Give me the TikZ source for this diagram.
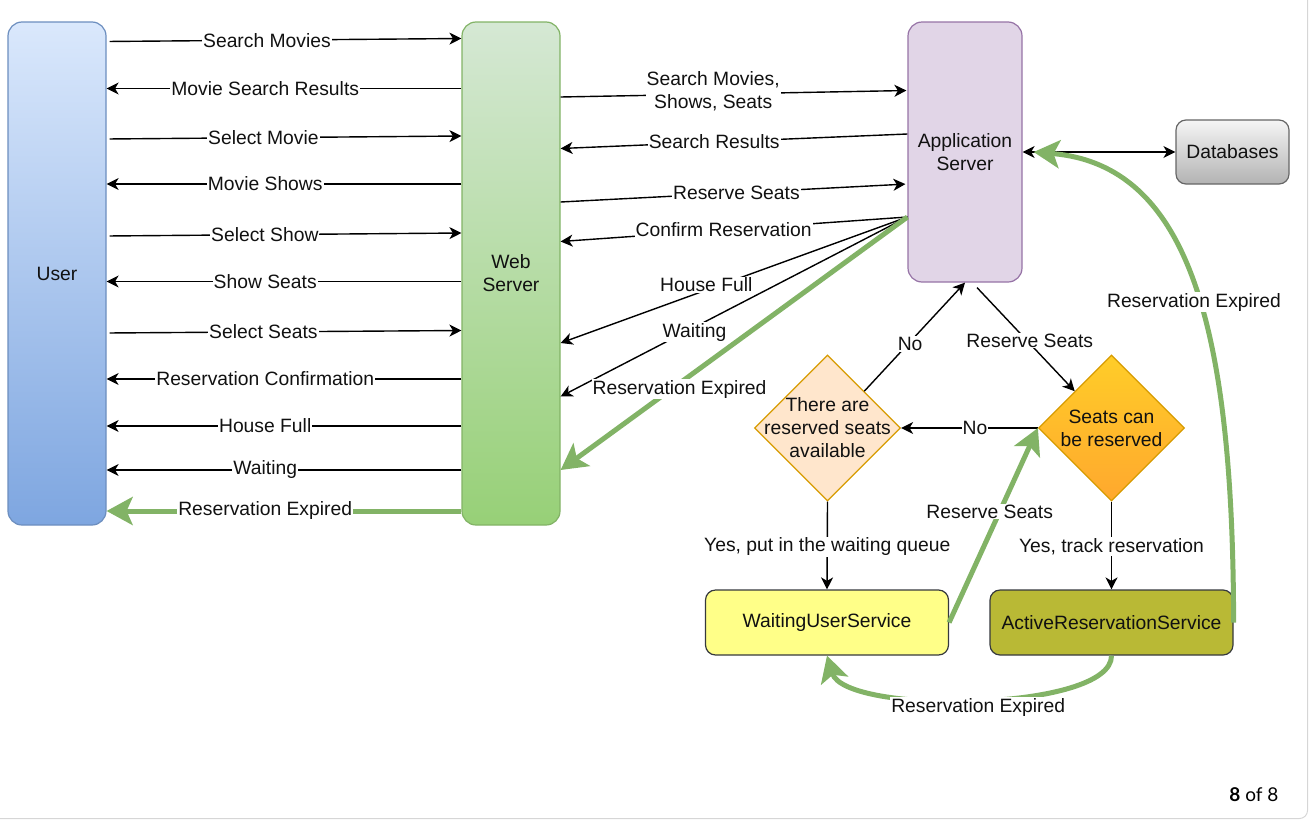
\documentclass[tikz,border=0pt]{standalone}
\usepackage{fontspec}
\setmainfont{Liberation Sans}
\newfontfamily\pagerfont{Lato}
\usetikzlibrary{arrows.meta,shapes.geometric}

\definecolor{ink}{HTML}{111111}
\definecolor{userTop}{HTML}{DAE8FC}
\definecolor{userBot}{HTML}{7EA6E0}
\definecolor{userLine}{HTML}{6C8EBF}
\definecolor{webTop}{HTML}{D5E8D4}
\definecolor{webBot}{HTML}{97D077}
\definecolor{webLine}{HTML}{82B366}
\definecolor{appFill}{HTML}{E1D5E7}
\definecolor{appLine}{HTML}{9673A6}
\definecolor{dbTop}{HTML}{F5F5F5}
\definecolor{dbBot}{HTML}{B3B3B3}
\definecolor{dbLine}{HTML}{666666}
\definecolor{chkFill}{HTML}{FFE6CC}
\definecolor{chkLine}{HTML}{D79B00}
\definecolor{resTop}{HTML}{FFCD28}
\definecolor{resBot}{HTML}{FFA82E}
\definecolor{waitFill}{HTML}{FFFF88}
\definecolor{activeFill}{HTML}{B9B935}
\definecolor{svcLine}{HTML}{36393D}
\definecolor{expired}{HTML}{82B366}
\definecolor{frameLine}{HTML}{D6D6D6}

\begin{document}
\begin{tikzpicture}[x=1pt, y=-1pt,
  font=\fontsize{19.3}{23}\selectfont,
  every node/.style={text=ink},
  box/.style={draw, line width=1.2pt, rounded corners=14pt, align=center, inner sep=0pt},
  svc/.style={box, draw=svcLine, rounded corners=10pt, minimum width=243pt, minimum height=65pt},
  dia/.style={diamond, draw=chkLine, line width=1.2pt, inner sep=0pt, minimum width=146pt, minimum height=146pt},
  msg/.style={draw=black, line width=1.4pt, -{Stealth[length=12pt,width=12pt,inset=3.5pt]}},
  both/.style={msg, {Stealth[length=12pt,width=12pt,inset=3.5pt]}-{Stealth[length=12pt,width=12pt,inset=3.5pt]}},
  exp/.style={draw=expired, line width=5pt, -{Stealth[length=26pt,width=28pt,inset=6pt]}},
  lbl/.style={fill=white, inner sep=1pt, align=center},
]
\useasboundingbox (0,0) rectangle (1311,822);

% page frame
\draw[frameLine, line width=1pt, rounded corners=8pt] (-20,-20) rectangle (1307.5,818.5);

% participants
\node[box, draw=userLine, top color=userTop, bottom color=userBot,
      minimum width=98pt, minimum height=503pt] (user) at (57,273.5) {User};
\node[box, draw=webLine, top color=webTop, bottom color=webBot,
      minimum width=98pt, minimum height=503pt] (web) at (511,273.5) {Web\\Server};
\node[box, draw=appLine, fill=appFill,
      minimum width=114pt, minimum height=260pt] (app) at (965,152) {Application\\Server};
\node[box, draw=dbLine, top color=dbTop, bottom color=dbBot, rounded corners=10pt,
      minimum width=113pt, minimum height=64pt] (db) at (1232.5,152) {Databases};

% decisions
\node[dia, fill=chkFill] (check) at (827.5,428) {};
\node[align=center] at (check) {There are\\reserved seats\\available};
\node[dia, top color=resTop, bottom color=resBot] (reserve) at (1111.5,428) {};
\node[align=center] at (reserve) {Seats can\\be reserved};

% services
\node[svc, fill=waitFill] (waiting) at (827,622.5) {WaitingUserService};
\node[svc, fill=activeFill] (active) at (1111.5,622.5) {ActiveReservationService};

% user <-> web server
\draw[msg, shorten <=3pt] (user.east |- 0,41.5) -- node[lbl,pos=0.452]{Search Movies} (web.west |- 0,38.5);
\draw[msg] (web.west |- 0,88.5) -- node[lbl,pos=0.553]{Movie Search Results} (user.east |- 0,88.5);
\draw[msg, shorten <=3pt] (user.east |- 0,139) -- node[lbl,pos=0.442]{Select Movie} (web.west |- 0,136);
\draw[msg] (web.west |- 0,184) -- node[lbl,pos=0.553]{Movie Shows} (user.east |- 0,184);
\draw[msg, shorten <=3pt] (user.east |- 0,236) -- node[lbl,pos=0.446]{Select Show} (web.west |- 0,233);
\draw[msg] (web.west |- 0,281.5) -- node[lbl,pos=0.553]{Show Seats} (user.east |- 0,281.5);
\draw[msg, shorten <=3pt] (user.east |- 0,333) -- node[lbl,pos=0.442]{Select Seats} (web.west |- 0,330.5);
\draw[msg] (web.west |- 0,379) -- node[lbl,pos=0.553]{Reservation Confirmation} (user.east |- 0,379);
\draw[msg] (web.west |- 0,426) -- node[lbl,pos=0.553]{House Full} (user.east |- 0,426);
\draw[msg] (web.west |- 0,470) -- node[lbl,pos=0.553]{Waiting} (user.east |- 0,470);
\draw[exp] (web.west |- 0,511) -- node[lbl,pos=0.553]{Reservation Expired} (user.east |- 0,511);

% web server <-> application server
\coordinate (fan) at (app.west |- 0,217);
\draw[msg, shorten >=1pt] (web.east |- 0,97) -- node[lbl,pos=0.44,yshift=3pt]{Search Movies,\\Shows, Seats} (app.west |- 0,90.5);
\draw[msg] (app.west |- 0,134) -- node[lbl,pos=0.557]{Search Results} (web.east |- 0,148.5);
\draw[msg, shorten >=2pt] (web.east |- 0,202) -- node[lbl,pos=0.507]{Reserve Seats} (app.west |- 0,184);
\draw[msg] (fan) -- node[lbl,pos=0.53]{Confirm Reservation} (web.east |- 0,241.5);
\draw[msg] (fan) -- node[lbl,pos=0.58,yshift=5pt]{House Full} (web.east |- 0,343);
\draw[msg] (fan) -- node[lbl,pos=0.614,yshift=-5pt]{Waiting} (web.east |- 0,396.5);
\draw[exp] (fan) -- node[lbl,pos=0.657,yshift=-6pt]{Reservation Expired} (web.east |- 0,470);

% application server <-> databases
\draw[both] (app.east) -- (db.west);

% reservation flow
\draw[msg] ([xshift=12pt,yshift=-5pt]app.south) -- node[lbl,pos=0.54,yshift=3pt]{Reserve Seats} (reserve.north west);
\draw[msg] (check.north east) -- node[lbl,pos=0.455,yshift=-2pt]{No} (app.south);
\draw[msg] (reserve.west) -- node[lbl,pos=0.46]{No} (check.east);
\draw[msg] (check.south) -- node[lbl,yshift=-1pt]{Yes, put in the waiting queue} (waiting.north);
\draw[msg] (reserve.south) -- node[lbl,yshift=-1pt]{Yes, track reservation} (active.north);

% expiry / retry paths
\draw[exp] (waiting.east) -- node[lbl,pos=0.57,xshift=-10pt]{Reserve Seats} (reserve.west);
\draw[exp] (active.east) .. controls (1233,330) and (1190,165) .. ([xshift=11pt]app.east)
  node[lbl,pos=0.46,xshift=-5pt]{Reservation Expired};
\draw[exp] (active.south) .. controls (1112,712) and (845,715) .. (waiting.south)
  node[lbl,pos=0.5,xshift=2pt,yshift=-8pt]{Reservation Expired};

% page counter
\node[anchor=base east, font=\pagerfont\fontsize{19}{23}\selectfont, text=black] (pager) at (1282,801) {\textbf{8} of 8};
\end{tikzpicture}
\end{document}
